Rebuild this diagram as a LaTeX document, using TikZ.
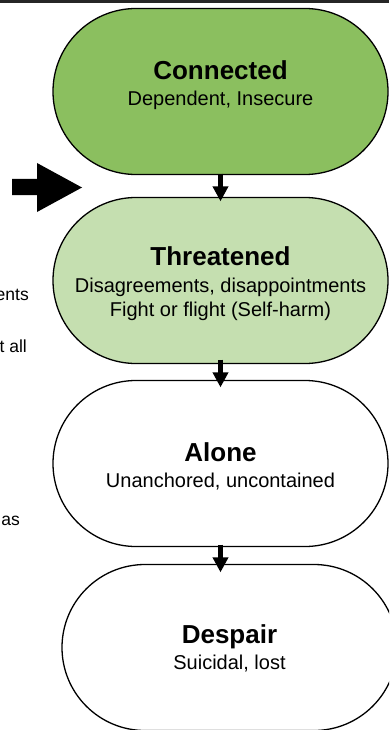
\documentclass[tikz,border=0pt]{standalone}
\usepackage{fontspec}
\setmainfont{Liberation Sans}
\usetikzlibrary{arrows.meta}
\definecolor{gdark}{RGB}{139,191,95}
\definecolor{glight}{RGB}{197,223,176}
\begin{document}
\begin{tikzpicture}[x=1pt,y=-1pt,
  state/.style={draw=black,line width=1.3pt,rounded corners=83pt,minimum width=335pt,minimum height=166pt,inner sep=0pt},
  ttl/.style={font=\fontsize{26}{30}\selectfont\bfseries,anchor=base,inner sep=0pt},
  sub/.style={font=\fontsize{20}{24}\selectfont,anchor=base,inner sep=0pt},
  flow/.style={line width=5pt,-{Triangle[width=15pt,length=15pt]}},
  frag/.style={font=\fontsize{17.5}{20}\selectfont,anchor=base east,inner sep=0pt}]
\useasboundingbox (0,0) rectangle (389,730);
\clip (0,0) rectangle (389,730);
\fill[white] (0,0) rectangle (389,730);
\draw[line width=3pt,black!85] (0,1.5) -- (389,1.5);

\node[state,fill=gdark] (c1) at (220.5,91.5) {};
\node[state,fill=glight] (c2) at (220.5,280.5) {};
\node[state,fill=white] (c3) at (220.5,463.5) {};
\node[state,fill=white] (c4) at (229.5,647.5) {};

\node[ttl] (t1) at (220.5,80) {Connected};
\node[sub] (s1) at (220.5,106) {Dependent, Insecure};
\node[ttl] (t2) at (220.5,265) {Threatened};
\node[sub] (s2a) at (220.5,292.5) {Disagreements, disappointments};
\node[sub] (s2b) at (220.5,316.5) {Fight or flight (Self-harm)};
\node[ttl] (t3) at (220.5,461) {Alone};
\node[sub] (s3) at (220.5,487) {Unanchored, uncontained};
\node[ttl] (t4) at (229.5,643) {Despair};
\node[sub] (s4) at (229.5,669) {Suicidal, lost};

\coordinate (e3) at (c3.south |- c4.north);
\draw[flow] ([yshift=1.5pt]c1.south) -- ([yshift=-4.5pt]c2.north);
\draw[flow] ([yshift=4.5pt]c2.south) -- ([yshift=-7.5pt]c3.north);
\draw[flow] ([yshift=2.5pt]c3.south) -- ([yshift=-8.5pt]e3);

\fill (12,179) -- (37,179) -- (37,163) -- (82,187.5) -- (37,212) -- (37,195) -- (12,195) -- cycle;

\node[frag] (f1) at (29,300) {ents};
\node[frag] (f2) at (27,352) {t all};
\node[frag] (f3) at (20,525) {as};
\end{tikzpicture}
\end{document}
